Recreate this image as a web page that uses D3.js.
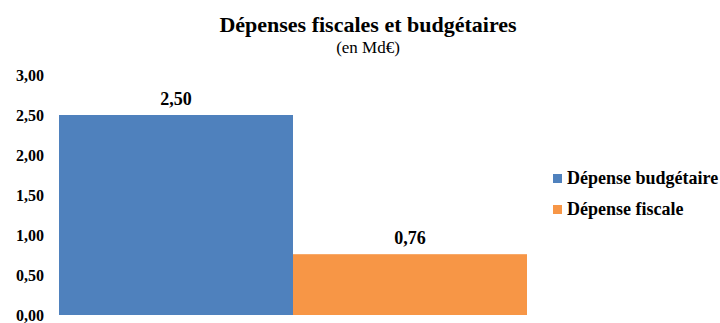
<!DOCTYPE html>
<html>
<head>
<meta charset="utf-8">
<script src="https://cdn.jsdelivr.net/npm/d3@7"></script>
</head>
<body style="margin:0;background:#fff">
<svg id="chart" width="720" height="323"></svg>
<script>
// Data
const categories = [""];
const seriesNames = ["Dépense budgétaire", "Dépense fiscale"];
const seriesValues = [2.50, 0.76];
const seriesColors = ["#4f81bd", "#f79646"];
const yTicks = [0, 0.5, 1, 1.5, 2, 2.5, 3];

const FONT = "Liberation Serif";
const fmt = v => d3.format(".2f")(v).replace(".", ",");

const svg = d3.select("#chart");

// Scales
const x0 = d3.scaleBand().domain(categories).range([59, 527]).padding(0);
const x1 = d3.scaleBand().domain(seriesNames).range([0, x0.bandwidth()]).padding(0);
const y = d3.scaleLinear().domain([0, 3]).range([315, 75]);

// Titles
svg.append("text")
  .attr("x", 368).attr("y", 32)
  .attr("text-anchor", "middle")
  .attr("font-family", FONT).attr("font-size", 22).attr("font-weight", "bold")
  .text("Dépenses fiscales et budgétaires");
svg.append("text")
  .attr("x", 368).attr("y", 53)
  .attr("text-anchor", "middle")
  .attr("font-family", FONT).attr("font-size", 17)
  .text("(en Md€)");

// Y axis (labels only)
const yAxis = svg.append("g")
  .attr("transform", "translate(46,0)")
  .call(d3.axisLeft(y).tickValues(yTicks).tickFormat(fmt).tickSize(0).tickPadding(2));
yAxis.attr("font-family", FONT).attr("font-size", 16).attr("font-weight", "bold");
yAxis.select(".domain").remove();
yAxis.selectAll("text").attr("fill", "#000");

// Bars
const group = svg.append("g")
  .selectAll("g")
  .data(categories)
  .join("g")
  .attr("transform", d => `translate(${x0(d)},0)`);

const rows = seriesNames.map((name, i) => ({ name, value: seriesValues[i], color: seriesColors[i] }));

group.selectAll("rect")
  .data(rows)
  .join("rect")
  .attr("x", d => x1(d.name))
  .attr("y", d => y(d.value))
  .attr("width", x1.bandwidth())
  .attr("height", d => y(0) - y(d.value))
  .attr("fill", d => d.color);

// Value labels
group.selectAll("text.value")
  .data(rows)
  .join("text")
  .attr("class", "value")
  .attr("x", d => x1(d.name) + x1.bandwidth() / 2)
  .attr("y", d => y(d.value) - 10)
  .attr("text-anchor", "middle")
  .attr("font-family", FONT).attr("font-size", 18).attr("font-weight", "bold")
  .text(d => fmt(d.value));

// Legend
const legend = svg.append("g")
  .selectAll("g")
  .data(rows)
  .join("g")
  .attr("transform", (d, i) => `translate(553,${174 + i * 31})`);
legend.append("rect")
  .attr("width", 9).attr("height", 9)
  .attr("fill", d => d.color);
legend.append("text")
  .attr("x", 14).attr("y", 10)
  .attr("font-family", FONT).attr("font-size", 18).attr("font-weight", "bold")
  .text(d => d.name);
</script>
</body>
</html>
